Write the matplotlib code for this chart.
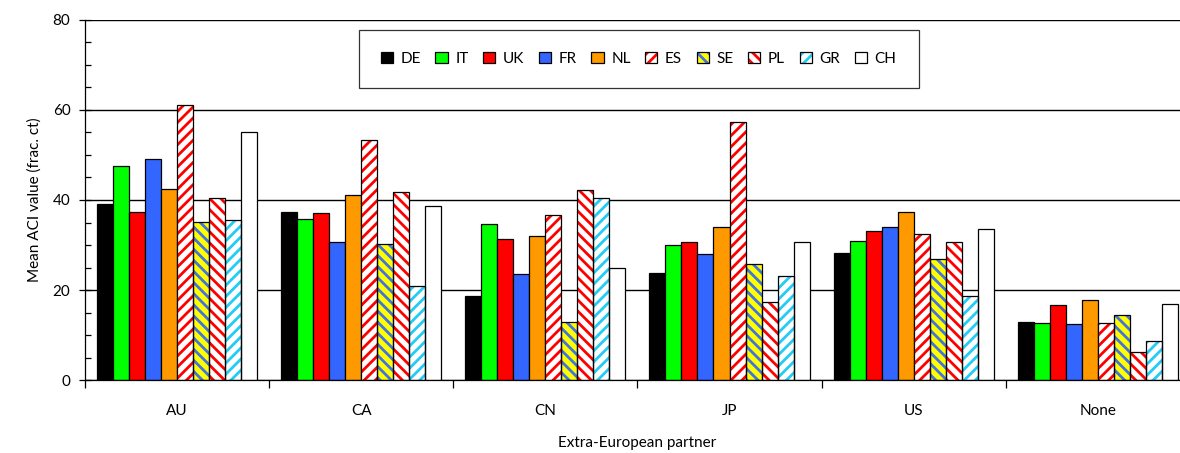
import numpy as np
import matplotlib
matplotlib.use('Agg')
import matplotlib.pyplot as plt
from matplotlib.patches import Patch
from matplotlib.legend_handler import HandlerTuple
from matplotlib.ticker import MultipleLocator

plt.rcParams['font.family'] = ['Lato', 'DejaVu Sans']
plt.rcParams['hatch.linewidth'] = 2.0

partners = ['AU', 'CA', 'CN', 'JP', 'US', 'None']
countries = ['DE', 'IT', 'UK', 'FR', 'NL', 'ES', 'SE', 'PL', 'GR', 'CH']

# mean ACI value per partner, one list per country
DE = [39.1, 37.3, 18.7, 23.8, 28.3, 13.0]
IT = [47.6, 35.7, 34.6, 30.1, 31.0, 12.7]
UK = [37.4, 37.2, 31.3, 30.7, 33.2, 16.7]
FR = [49.2, 30.7, 23.6, 27.9, 34.1, 12.5]
NL = [42.5, 41.1, 32.1, 34.1, 37.4, 17.8]
ES = [61.2, 53.3, 36.7, 57.4, 32.5, 12.6]
SE = [35.2, 30.2, 13.0, 25.7, 26.8, 14.5]
PL = [40.5, 41.7, 42.2, 17.3, 30.7, 6.2]
GR = [35.5, 21.0, 40.5, 23.1, 18.7, 8.6]
CH = [55.0, 38.6, 24.8, 30.7, 33.5, 17.0]
series = [DE, IT, UK, FR, NL, ES, SE, PL, GR, CH]

# (face colour, hatch, hatch colour)
styles = [
    ('#000000', None, None),
    ('#00FF00', None, None),
    ('#FF0000', None, None),
    ('#3366FF', None, None),
    ('#FF9900', None, None),
    ('#FFFFFF', '///', '#FF0000'),
    ('#FFFF00', '\\\\\\', '#4472E0'),
    ('#FFFFFF', '\\\\\\', '#FF0000'),
    ('#FFFFFF', '///', '#22CCF5'),
    ('#FFFFFF', None, None),
]

fig = plt.figure(figsize=(11.8, 4.53), dpi=100)
ax = fig.add_axes([0.072, 0.161, 0.9364, 0.795])

x = np.arange(len(partners))
w = 0.087
start = (1 - w * len(countries)) / 2

handles = []
for i, (name, vals) in enumerate(zip(countries, series)):
    fc, hatch, hc = styles[i]
    pos = x + start + w * (i + 0.5)
    if hatch:
        ax.bar(pos, vals, w, color=fc, edgecolor=hc, hatch=hatch, linewidth=0, zorder=3)
        ax.bar(pos, vals, w, fill=False, edgecolor='black', linewidth=0.9, zorder=4)
        h = (Patch(facecolor=fc, edgecolor=hc, hatch=hatch, linewidth=0),
             Patch(fill=False, edgecolor='black', linewidth=0.9))
    else:
        ax.bar(pos, vals, w, color=fc, edgecolor='black', linewidth=0.9, zorder=3)
        h = Patch(facecolor=fc, edgecolor='black', linewidth=0.9)
    handles.append(h)

ax.set_xlim(0, len(partners))
ax.set_ylim(0, 80)

# category boundaries as ticks, names centred between them
ax.set_xticks(np.arange(len(partners) + 1))
ax.set_xticklabels([])
ax.set_xticks(x + 0.5, minor=True)
ax.set_xticklabels(partners, minor=True, fontsize=11)
ax.tick_params(axis='x', which='major', direction='out', length=6, width=0.9)
ax.tick_params(axis='x', which='minor', length=0, pad=17)

ax.yaxis.set_major_locator(MultipleLocator(20))
ax.yaxis.set_minor_locator(MultipleLocator(5))
ax.tick_params(axis='y', which='major', direction='inout', length=9, width=0.9, labelsize=11, pad=6)
ax.tick_params(axis='y', which='minor', direction='in', length=4, width=0.9)

ax.grid(axis='y', which='major', color='black', linewidth=1.0, zorder=0)
ax.set_axisbelow(True)
for s in ['top', 'right']:
    ax.spines[s].set_visible(False)
for s in ['left', 'bottom']:
    ax.spines[s].set_linewidth(0.9)
    ax.spines[s].set_zorder(5)

ax.set_ylabel('Mean ACI value (frac. ct)', fontsize=11, labelpad=8)
ax.set_xlabel('Extra-European partner', fontsize=11, labelpad=13)

leg = ax.legend(handles, countries, loc='center', bbox_to_anchor=(0.501, 0.892),
                ncol=10, fontsize=11, frameon=True, fancybox=False, edgecolor='black',
                handlelength=0.8, handleheight=0.8, handletextpad=0.5,
                columnspacing=0.95, borderpad=1.45,
                handler_map={tuple: HandlerTuple(ndivide=1)})
leg.get_frame().set_linewidth(0.9)
leg.set_zorder(6)

fig.savefig('out.png', dpi=100)
